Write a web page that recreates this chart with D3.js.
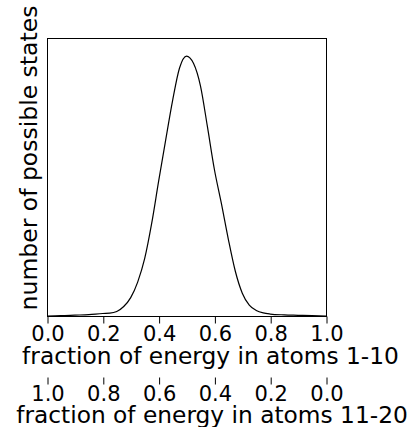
<!DOCTYPE html>
<html>
<head>
<meta charset="utf-8">
<script src="https://cdn.jsdelivr.net/npm/d3@7/dist/d3.min.js"></script>
<style>
  html, body { margin: 0; padding: 0; background: #fff; }
  svg { display: block; }
  text { font-family: "DejaVu Sans", sans-serif; fill: #000; }
</style>
</head>
<body>
<svg id="chart" width="409" height="427"></svg>
<script>
// ---- data ----
const fraction = [0.0, 0.05, 0.1, 0.15, 0.2, 0.225, 0.25, 0.275, 0.3, 0.325, 0.35, 0.375, 0.4, 0.425, 0.45, 0.475, 0.5,
                  0.525, 0.55, 0.575, 0.6, 0.625, 0.65, 0.675, 0.7, 0.725, 0.75, 0.775, 0.8, 0.85, 0.9, 0.95, 1.0];
const numStates = [0.0, 0.001, 0.003, 0.005, 0.009, 0.010, 0.016, 0.034, 0.066, 0.122, 0.206, 0.332, 0.484, 0.631, 0.774, 0.892, 0.935,
                   0.909, 0.828, 0.681, 0.527, 0.405, 0.276, 0.161, 0.082, 0.039, 0.020, 0.011, 0.007, 0.004, 0.0025, 0.001, 0.0];
const tickValuesA = [0.0, 0.2, 0.4, 0.6, 0.8, 1.0];          // atoms 1-10
const tickValuesB = [1.0, 0.8, 0.6, 0.4, 0.2, 0.0];          // atoms 11-20
const xLabelA = "fraction of energy in atoms 1-10";
const xLabelB = "fraction of energy in atoms 11-20";
const yLabel = "number of possible states";

// ---- layout ----
const mLeft = 47, mTop = 38, mRight = 326, mBottom = 316;
const svg = d3.select("#chart");

const x = d3.scaleLinear().domain([0, 1]).range([mLeft, mRight]);
const xB = d3.scaleLinear().domain([1, 0]).range([mLeft, mRight]);
const y = d3.scaleLinear().domain([0, 1]).range([mBottom, mTop]);

// curve
const line = d3.line()
  .x((d, i) => x(fraction[i]))
  .y(d => y(d))
  .curve(d3.curveMonotoneX);

svg.append("path")
  .datum(numStates)
  .attr("d", line)
  .attr("fill", "none")
  .attr("stroke", "#000")
  .attr("stroke-width", 1.2);

// frame
svg.append("rect")
  .attr("x", mLeft + 0.5).attr("y", mTop + 0.5)
  .attr("width", mRight - mLeft).attr("height", mBottom - mTop)
  .attr("fill", "none").attr("stroke", "#000").attr("stroke-width", 1);

// primary x axis
const axA = svg.append("g")
  .attr("transform", `translate(0.5,${mBottom + 0.5})`)
  .call(d3.axisBottom(x).tickValues(tickValuesA).tickFormat(d3.format(".1f"))
        .tickSize(7).tickSizeOuter(0).tickPadding(3));
axA.select(".domain").remove();
axA.selectAll("text").attr("font-size", 21).attr("font-family", "DejaVu Sans");
axA.selectAll("line").attr("stroke", "#000");

// secondary x axis (no spine)
const axB = svg.append("g")
  .attr("transform", `translate(0.5,377.5)`)
  .call(d3.axisBottom(xB).tickValues(tickValuesB).tickFormat(d3.format(".1f"))
        .tickSize(7).tickSizeOuter(0).tickPadding(2));
axB.select(".domain").remove();
axB.selectAll("text").attr("font-size", 21).attr("font-family", "DejaVu Sans");
axB.selectAll("line").attr("stroke", "#000");

// axis labels
svg.append("text")
  .attr("x", 210.5).attr("y", 363.5)
  .attr("text-anchor", "middle").attr("font-size", 23.3)
  .text(xLabelA);

svg.append("text")
  .attr("x", 212).attr("y", 423)
  .attr("text-anchor", "middle").attr("font-size", 23.3)
  .text(xLabelB);

svg.append("text")
  .attr("transform", "translate(37,158) rotate(-90)")
  .attr("text-anchor", "middle").attr("font-size", 23.5)
  .text(yLabel);
</script>
</body>
</html>
